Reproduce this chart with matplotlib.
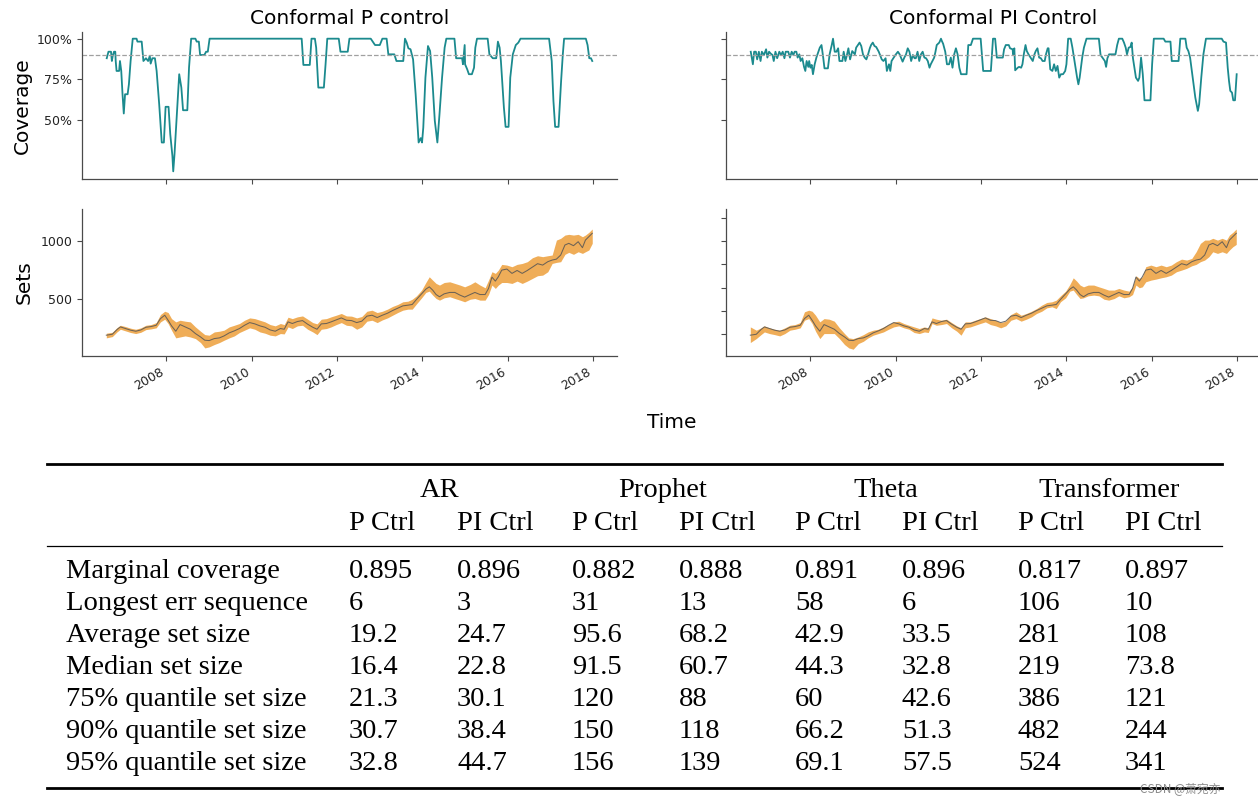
import matplotlib
matplotlib.use('Agg')
import matplotlib.pyplot as plt
import matplotlib.dates as mdates
from matplotlib.ticker import PercentFormatter
from matplotlib.lines import Line2D
import pandas as pd

# ---- coverage, conformal P control (percent) ----
p_years = [2006.60, 2006.64, 2006.70, 2006.72, 2006.74, 2006.77, 2006.80, 2006.81, 2006.83, 2006.89,
           2006.91, 2006.94, 2006.97, 2007.00, 2007.03, 2007.09, 2007.12, 2007.16, 2007.21, 2007.30,
           2007.32, 2007.42, 2007.46, 2007.52, 2007.57, 2007.61, 2007.63, 2007.67, 2007.73, 2007.77,
           2007.83, 2007.86, 2007.89, 2007.94, 2007.98, 2008.05, 2008.09, 2008.14, 2008.16, 2008.19,
           2008.25, 2008.30, 2008.35, 2008.39, 2008.49, 2008.53, 2008.58, 2008.68, 2008.71, 2008.76,
           2008.79, 2008.89, 2008.93, 2008.97, 2009.01, 2011.17, 2011.21, 2011.36, 2011.40, 2011.48,
           2011.51, 2011.56, 2011.69, 2011.73, 2011.77, 2012.04, 2012.08, 2012.25, 2012.29,
           2012.79, 2012.85, 2012.89, 2013.00, 2013.06, 2013.16, 2013.20, 2013.34, 2013.39, 2013.55,
           2013.59, 2013.63, 2013.67, 2013.72, 2013.78, 2013.84, 2013.91, 2013.96, 2013.99, 2014.02,
           2014.07, 2014.13, 2014.18, 2014.23, 2014.29, 2014.35, 2014.40, 2014.46, 2014.52, 2014.56,
           2014.75, 2014.79, 2014.93, 2014.95, 2014.99, 2015.00, 2015.05, 2015.09, 2015.16, 2015.21,
           2015.24, 2015.28, 2015.53, 2015.57, 2015.65, 2015.73, 2015.77, 2015.81, 2015.84, 2015.91,
           2015.95, 2016.02, 2016.06, 2016.12, 2016.19, 2016.25, 2016.30, 2016.97, 2017.03, 2017.07,
           2017.11, 2017.19, 2017.25, 2017.29, 2017.32, 2017.83, 2017.87, 2017.91, 2017.95, 2017.98]
p_cov = [88.0, 92.0, 92.0, 86.3, 89.4, 92.0, 92.0, 86.3, 80.2, 80.2,
         86.3, 80.2, 65.9, 54.1, 65.9, 65.9, 72.0, 86.3, 100, 100,
         98.2, 98.2, 86.3, 88.0, 86.3, 89.4, 84.7, 88.0, 88.0, 80.2,
         59.8, 47.6, 36.3, 36.3, 58.2, 58.2, 41.4, 28.2, 18.6, 29.2,
         55.7, 78.2, 70.0, 56.1, 56.1, 82.2, 100, 100, 98.2, 98.2,
         90.0, 90.0, 92.0, 92.0, 100, 100, 83.9, 83.9, 100, 100,
         94.5, 70.0, 70.0, 84.3, 100, 100, 92.0, 92.0, 100,
         100, 97.6, 96.1, 96.1, 100, 100, 90.4, 90.4, 86.3, 86.3,
         100, 97.6, 94.1, 93.5, 87.3, 65.9, 36.3, 39.0, 36.3, 45.5,
         76.1, 95.5, 92.4, 76.1, 49.6, 36.3, 53.7, 76.1, 94.5, 100,
         100, 88.0, 88.0, 84.3, 96.1, 84.3, 81.2, 78.2, 78.2, 82.2,
         94.5, 100, 100, 90.4, 88.0, 88.0, 98.2, 94.5, 86.3, 57.8,
         45.9, 45.9, 76.1, 90.4, 96.1, 97.6, 100, 100, 86.3, 61.8,
         45.9, 45.9, 74.1, 90.4, 100, 100, 96.1, 88.0, 88.0, 86.3]

# ---- coverage, conformal PI control (percent) ----
pi_years = [2006.60, 2006.65, 2006.68, 2006.72, 2006.75, 2006.79, 2006.83, 2006.86, 2006.91, 2006.96,
            2006.99, 2007.03, 2007.07, 2007.11, 2007.14, 2007.18, 2007.22, 2007.27, 2007.31, 2007.35,
            2007.39, 2007.42, 2007.48, 2007.52, 2007.56, 2007.60, 2007.63, 2007.67, 2007.70, 2007.74,
            2007.77, 2007.81, 2007.85, 2007.88, 2007.91, 2007.95, 2007.97, 2008.00, 2008.03, 2008.06,
            2008.10, 2008.14, 2008.18, 2008.22, 2008.26, 2008.30, 2008.33, 2008.41, 2008.45, 2008.50,
            2008.53, 2008.57, 2008.61, 2008.65, 2008.68, 2008.75, 2008.78, 2008.82, 2008.86, 2008.89,
            2008.93, 2008.98, 2009.04, 2009.07, 2009.11, 2009.15, 2009.19, 2009.23, 2009.27, 2009.31,
            2009.35, 2009.39, 2009.42, 2009.46, 2009.50, 2009.54, 2009.60, 2009.63, 2009.67, 2009.71,
            2009.76, 2009.79, 2009.84, 2009.87, 2009.90, 2009.95, 2009.99, 2010.05, 2010.09, 2010.12,
            2010.16, 2010.20, 2010.24, 2010.28, 2010.32, 2010.36, 2010.40, 2010.44, 2010.47, 2010.51,
            2010.55, 2010.59, 2010.63, 2010.67, 2010.71, 2010.75, 2010.79, 2010.82, 2010.86, 2010.90,
            2010.93, 2010.96, 2011.02, 2011.06, 2011.08, 2011.11, 2011.16, 2011.20, 2011.25, 2011.29,
            2011.33, 2011.37, 2011.41, 2011.45, 2011.49, 2011.53, 2011.66, 2011.70, 2011.76, 2011.81,
            2011.99, 2012.05, 2012.23, 2012.28, 2012.33, 2012.37, 2012.51, 2012.54, 2012.58, 2012.65,
            2012.68, 2012.74, 2012.75, 2012.78, 2012.80, 2012.86, 2012.89, 2012.94, 2012.97, 2013.00,
            2013.04, 2013.07, 2013.11, 2013.16, 2013.21, 2013.25, 2013.28, 2013.32, 2013.36, 2013.40,
            2013.44, 2013.49, 2013.52, 2013.56, 2013.58, 2013.62, 2013.67, 2013.71, 2013.75, 2013.79,
            2013.83, 2013.87, 2013.92, 2013.97, 2014.00, 2014.04, 2014.10, 2014.14, 2014.20, 2014.25,
            2014.28, 2014.31, 2014.37, 2014.41, 2014.47, 2014.76, 2014.80, 2014.90, 2014.93, 2014.96,
            2015.00, 2015.15, 2015.19, 2015.23, 2015.31, 2015.35, 2015.39, 2015.42, 2015.46, 2015.50,
            2015.53, 2015.56, 2015.60, 2015.63, 2015.68, 2015.71, 2015.75, 2015.79, 2015.83, 2015.97,
            2016.01, 2016.05, 2016.28, 2016.32, 2016.44, 2016.47, 2016.63, 2016.67, 2016.79, 2016.82,
            2016.86, 2016.90, 2016.96, 2017.02, 2017.08, 2017.11, 2017.16, 2017.21, 2017.27, 2017.64,
            2017.68, 2017.74, 2017.78, 2017.81, 2017.84, 2017.88, 2017.91, 2017.95, 2017.99]
pi_cov = [92.0, 84.3, 92.0, 92.0, 87.3, 92.0, 86.3, 92.0, 90.0, 93.5,
          88.4, 92.0, 90.8, 90.0, 86.3, 92.0, 88.0, 92.0, 90.0, 92.0,
          88.0, 92.0, 92.0, 88.4, 92.0, 90.0, 92.0, 92.0, 88.4, 90.4,
          86.3, 88.0, 82.7, 80.2, 86.3, 82.7, 86.3, 82.2, 83.9, 78.2,
          84.3, 88.4, 91.4, 94.5, 96.1, 88.4, 81.8, 81.8, 90.4, 96.1,
          100, 92.0, 92.0, 94.1, 86.3, 86.3, 92.0, 86.3, 90.4, 94.1,
          87.3, 92.4, 90.4, 94.5, 96.1, 97.6, 95.5, 90.4, 88.4, 87.3,
          90.4, 94.1, 96.1, 97.6, 95.5, 94.9, 92.0, 90.0, 87.3, 86.3,
          88.0, 80.2, 84.3, 80.2, 86.3, 88.4, 90.0, 92.0, 90.4, 88.4,
          85.9, 88.4, 90.4, 94.1, 92.0, 86.3, 90.0, 88.0, 88.0, 92.0,
          86.3, 90.4, 92.0, 88.4, 88.0, 86.3, 82.2, 84.3, 86.3, 88.4,
          92.0, 96.1, 97.6, 100, 98.6, 96.9, 92.0, 84.3, 84.3, 88.4,
          82.2, 90.4, 94.1, 90.4, 82.2, 78.2, 78.2, 96.1, 96.1, 100,
          100, 80.2, 80.2, 100, 100, 88.4, 88.4, 93.5, 96.1, 96.1,
          94.1, 93.5, 90.4, 94.1, 80.6, 82.2, 82.7, 82.2, 84.3, 90.4,
          96.1, 92.4, 90.4, 88.4, 86.3, 90.4, 92.4, 94.1, 88.4, 88.0,
          86.3, 86.3, 90.4, 94.1, 94.1, 81.2, 80.2, 84.3, 80.2, 83.3,
          76.1, 78.2, 78.2, 80.2, 84.3, 100, 100, 94.5, 84.3, 76.1,
          72.0, 76.1, 88.4, 94.5, 100, 100, 90.0, 86.3, 82.7, 88.0,
          90.4, 90.4, 96.1, 100, 100, 97.6, 94.5, 90.4, 94.5, 94.9,
          97.6, 88.0, 81.2, 76.1, 74.1, 76.1, 88.4, 78.2, 62.2, 62.2,
          84.3, 100, 100, 98.2, 98.2, 86.3, 86.3, 100, 100, 94.5,
          92.4, 88.4, 76.1, 63.9, 55.7, 59.8, 76.1, 90.4, 100, 100,
          98.2, 97.6, 82.2, 74.1, 68.0, 66.9, 62.2, 62.2, 78.2]

# ---- prediction sets (series + band) ----
set_years = [2006.59, 2006.73, 2006.84, 2006.92, 2007.04, 2007.16, 2007.28, 2007.40, 2007.52, 2007.64,
             2007.76, 2007.86, 2007.96, 2008.04, 2008.12, 2008.22, 2008.32, 2008.44, 2008.56, 2008.68,
             2008.80, 2008.90, 2009.00, 2009.12, 2009.24, 2009.35, 2009.47, 2009.59, 2009.71, 2009.83,
             2009.95, 2010.07, 2010.19, 2010.31, 2010.43, 2010.55, 2010.67, 2010.76, 2010.85, 2010.95,
             2011.07, 2011.19, 2011.31, 2011.43, 2011.53, 2011.63, 2011.75, 2011.86, 2011.98, 2012.10,
             2012.22, 2012.34, 2012.46, 2012.58, 2012.70, 2012.82, 2012.94, 2013.06, 2013.18, 2013.30,
             2013.42, 2013.54, 2013.66, 2013.76, 2013.86, 2013.98, 2014.08, 2014.16, 2014.24, 2014.32,
             2014.40, 2014.51, 2014.64, 2014.76, 2014.88, 2014.99, 2015.12, 2015.23, 2015.35, 2015.47,
             2015.55, 2015.63, 2015.71, 2015.78, 2015.86, 2015.98, 2016.10, 2016.22, 2016.34, 2016.46,
             2016.58, 2016.70, 2016.82, 2016.94, 2017.04, 2017.14, 2017.24, 2017.34, 2017.43, 2017.54,
             2017.65, 2017.75, 2017.82, 2017.90, 2017.98]
series = [194, 202, 242, 265, 251, 237, 228, 239, 262, 268,
          279, 336, 365, 322, 274, 228, 285, 265, 245, 208,
          179, 151, 148, 165, 171, 188, 214, 231, 251, 279,
          302, 291, 274, 262, 239, 228, 251, 245, 308, 294,
          311, 319, 288, 262, 245, 291, 294, 308, 325, 342,
          322, 319, 302, 314, 357, 365, 345, 365, 382, 405,
          425, 445, 451, 457, 500, 548, 588, 608, 580, 542,
          523, 548, 560, 560, 537, 520, 542, 560, 542, 542,
          594, 691, 657, 694, 751, 760, 723, 748, 723, 748,
          777, 806, 794, 823, 837, 845, 880, 966, 980, 960,
          994, 943, 1008, 1037, 1066]
p_hi = [211, 219, 259, 279, 268, 254, 245, 257, 279, 285,
        302, 371, 399, 388, 336, 308, 322, 314, 308, 265,
        228, 199, 194, 222, 228, 237, 265, 279, 294, 322,
        342, 336, 322, 308, 285, 274, 294, 285, 348, 336,
        351, 359, 331, 302, 291, 331, 336, 351, 365, 380,
        359, 357, 342, 354, 399, 408, 388, 399, 417, 440,
        457, 480, 485, 502, 531, 580, 645, 694, 665, 637,
        623, 645, 651, 637, 623, 608, 628, 651, 623, 600,
        665, 737, 723, 751, 800, 794, 780, 800, 808, 823,
        857, 874, 866, 874, 880, 1008, 1023, 1051, 1057, 1051,
        1057, 1037, 1051, 1074, 1103]
p_lo = [171, 182, 222, 245, 231, 217, 208, 219, 242, 248,
        257, 308, 331, 294, 237, 171, 179, 188, 179, 165,
        131, 85, 94, 114, 131, 151, 171, 188, 217, 237,
        257, 245, 222, 211, 194, 188, 208, 205, 265, 251,
        274, 279, 245, 222, 199, 245, 251, 265, 285, 302,
        279, 274, 245, 265, 314, 322, 302, 325, 342, 365,
        388, 408, 417, 417, 462, 514, 560, 571, 537, 508,
        494, 514, 523, 508, 494, 480, 502, 508, 494, 494,
        542, 623, 594, 623, 645, 645, 637, 657, 637, 657,
        680, 703, 708, 737, 808, 817, 823, 886, 903, 886,
        908, 894, 908, 923, 980]
pi_hi = [265, 237, 257, 274, 257, 245, 237, 257, 279, 285,
         302, 394, 408, 399, 365, 308, 336, 331, 314, 257,
         208, 171, 165, 179, 199, 222, 237, 245, 265, 285,
         308, 314, 294, 279, 265, 251, 265, 257, 342, 331,
         322, 331, 302, 274, 257, 308, 308, 322, 336, 351,
         336, 322, 302, 314, 371, 394, 365, 380, 399, 422,
         451, 474, 480, 494, 531, 571, 628, 685, 657, 623,
         608, 623, 623, 608, 594, 580, 580, 594, 580, 571,
         608, 703, 680, 694, 780, 794, 780, 794, 780, 794,
         823, 845, 837, 851, 908, 980, 1008, 1008, 1023, 1008,
         1023, 1008, 1051, 1074, 1103]
pi_lo = [131, 165, 199, 222, 208, 199, 188, 208, 237, 245,
         257, 322, 336, 294, 228, 165, 208, 208, 208, 165,
         114, 85, 74, 122, 142, 171, 194, 208, 222, 245,
         265, 274, 257, 245, 217, 208, 222, 217, 294, 279,
         285, 294, 257, 228, 194, 257, 265, 279, 294, 308,
         285, 274, 257, 274, 322, 336, 314, 331, 351, 380,
         399, 428, 437, 422, 480, 514, 571, 580, 542, 508,
         514, 531, 537, 531, 502, 494, 508, 531, 514, 523,
         542, 623, 600, 608, 651, 665, 674, 685, 694, 708,
         737, 751, 766, 788, 800, 823, 837, 866, 908, 894,
         908, 894, 923, 951, 971]

# ---- table ----
models = ['AR', 'Prophet', 'Theta', 'Transformer']
ctrl_names = ['P Ctrl', 'PI Ctrl']
row_labels = ['Marginal coverage', 'Longest err sequence', 'Average set size',
              'Median set size', '75% quantile set size', '90% quantile set size',
              '95% quantile set size']
table_values = [
    ['0.895', '0.896', '0.882', '0.888', '0.891', '0.896', '0.817', '0.897'],
    ['6', '3', '31', '13', '58', '6', '106', '10'],
    ['19.2', '24.7', '95.6', '68.2', '42.9', '33.5', '281', '108'],
    ['16.4', '22.8', '91.5', '60.7', '44.3', '32.8', '219', '73.8'],
    ['21.3', '30.1', '120', '88', '60', '42.6', '386', '121'],
    ['30.7', '38.4', '150', '118', '66.2', '51.3', '482', '244'],
    ['32.8', '44.7', '156', '139', '69.1', '57.5', '524', '341'],
]


def to_dates(years):
    out = []
    for y in years:
        yr = int(y)
        out.append(pd.Timestamp(year=yr, month=1, day=1) + pd.Timedelta(days=(y - yr) * 365.25))
    return out


W, H = 1258, 807
fig = plt.figure(figsize=(W / 100, H / 100), dpi=100)

teal = '#1b8a8e'
band = '#efa94f'
spine_col = '#4a4a4a'

ax_cp = fig.add_axes([82 / W, 1 - 179 / H, 535 / W, 147 / H])
ax_cpi = fig.add_axes([726 / W, 1 - 179 / H, 535 / W, 147 / H], sharex=ax_cp, sharey=ax_cp)
ax_sp = fig.add_axes([82 / W, 1 - 356 / H, 535 / W, 147 / H], sharex=ax_cp)
ax_spi = fig.add_axes([726 / W, 1 - 356 / H, 535 / W, 147 / H], sharex=ax_cp)

for ax in (ax_cp, ax_cpi, ax_sp, ax_spi):
    ax.spines['top'].set_visible(False)
    ax.spines['right'].set_visible(False)
    for s in ('left', 'bottom'):
        ax.spines[s].set_color(spine_col)
        ax.spines[s].set_linewidth(0.9)
    ax.tick_params(colors=spine_col, labelcolor='#222222', labelsize=9, width=0.8, length=3.5)

# coverage panels
ax_cp.plot(to_dates(p_years), p_cov, color=teal, lw=1.3)
ax_cpi.plot(to_dates(pi_years), pi_cov, color=teal, lw=1.3)
for ax in (ax_cp, ax_cpi):
    ax.axhline(90, color='#a0a0a0', ls='--', lw=0.9)
    ax.tick_params(labelbottom=False)
ax_cp.set_ylim(13.9, 104.1)
ax_cp.set_yticks([50, 75, 100])
ax_cp.yaxis.set_major_formatter(PercentFormatter(100, decimals=0))
ax_cpi.tick_params(labelleft=False)
ax_cp.set_title('Conformal P control', fontsize=14.5)
ax_cpi.set_title('Conformal PI Control', fontsize=14.5)
ax_cp.set_ylabel('Coverage', fontsize=14.5)
ax_cp.yaxis.set_label_coords(-0.094, 0.5)

# set panels
d = to_dates(set_years)
ax_sp.fill_between(d, p_lo, p_hi, color=band, lw=0, alpha=0.95)
ax_sp.plot(d, series, color='#555555', lw=0.75, alpha=0.85)
ax_spi.fill_between(d, pi_lo, pi_hi, color=band, lw=0, alpha=0.95)
ax_spi.plot(d, series, color='#555555', lw=0.75, alpha=0.85)
for ax in (ax_sp, ax_spi):
    ax.set_ylim(16, 1274)
ax_sp.set_yticks([500, 1000])
ax_spi.set_yticks([200, 400, 600, 800, 1000, 1200])
ax_spi.tick_params(labelleft=False)
ax_sp.set_ylabel('Sets', fontsize=14.5)
ax_sp.yaxis.set_label_coords(-0.09, 0.5)

ax_cp.xaxis.set_major_locator(mdates.YearLocator(2))
ax_cp.xaxis.set_major_formatter(mdates.DateFormatter('%Y'))
for ax in (ax_sp, ax_spi):
    for lab in ax.get_xticklabels():
        lab.set_rotation(30)
        lab.set_ha('right')

fig.text(672 / W, 1 - 422 / H, 'Time', ha='center', va='center', fontsize=14.5)

# table drawn as figure text
serif = 'Liberation Serif'
fs = 20.5
col_x = [349, 457, 572, 679, 795, 902, 1018, 1125]
group_x = [440, 663, 886, 1109]


def ftext(px, py, s, **kw):
    fig.text(px / W, 1 - py / H, s, family=serif, fontsize=fs, va='baseline', **kw)


for gx, m in zip(group_x, models):
    ftext(gx, 497, m, ha='center')
for i, cx in enumerate(col_x):
    ftext(cx, 530, ctrl_names[i % 2], ha='left')
for r, (lab, vals) in enumerate(zip(row_labels, table_values)):
    by = 578 + 32 * r
    ftext(66, by, lab, ha='left')
    for cx, v in zip(col_x, vals):
        ftext(cx, by, v, ha='left')

for py, lw in ((464, 2.0), (546, 0.9), (788, 2.0)):
    fig.add_artist(Line2D([47 / W, 1222 / W], [1 - py / H, 1 - py / H],
                          transform=fig.transFigure, color='black', lw=lw))

fig.text(1140 / W, 1 - 789 / H, 'CSDN @萧宛亦', fontsize=8.5, color='#8c8c8c', va='center',
         family=['Noto Sans CJK SC', 'DejaVu Sans'])

fig.savefig('out.png', dpi=100)
